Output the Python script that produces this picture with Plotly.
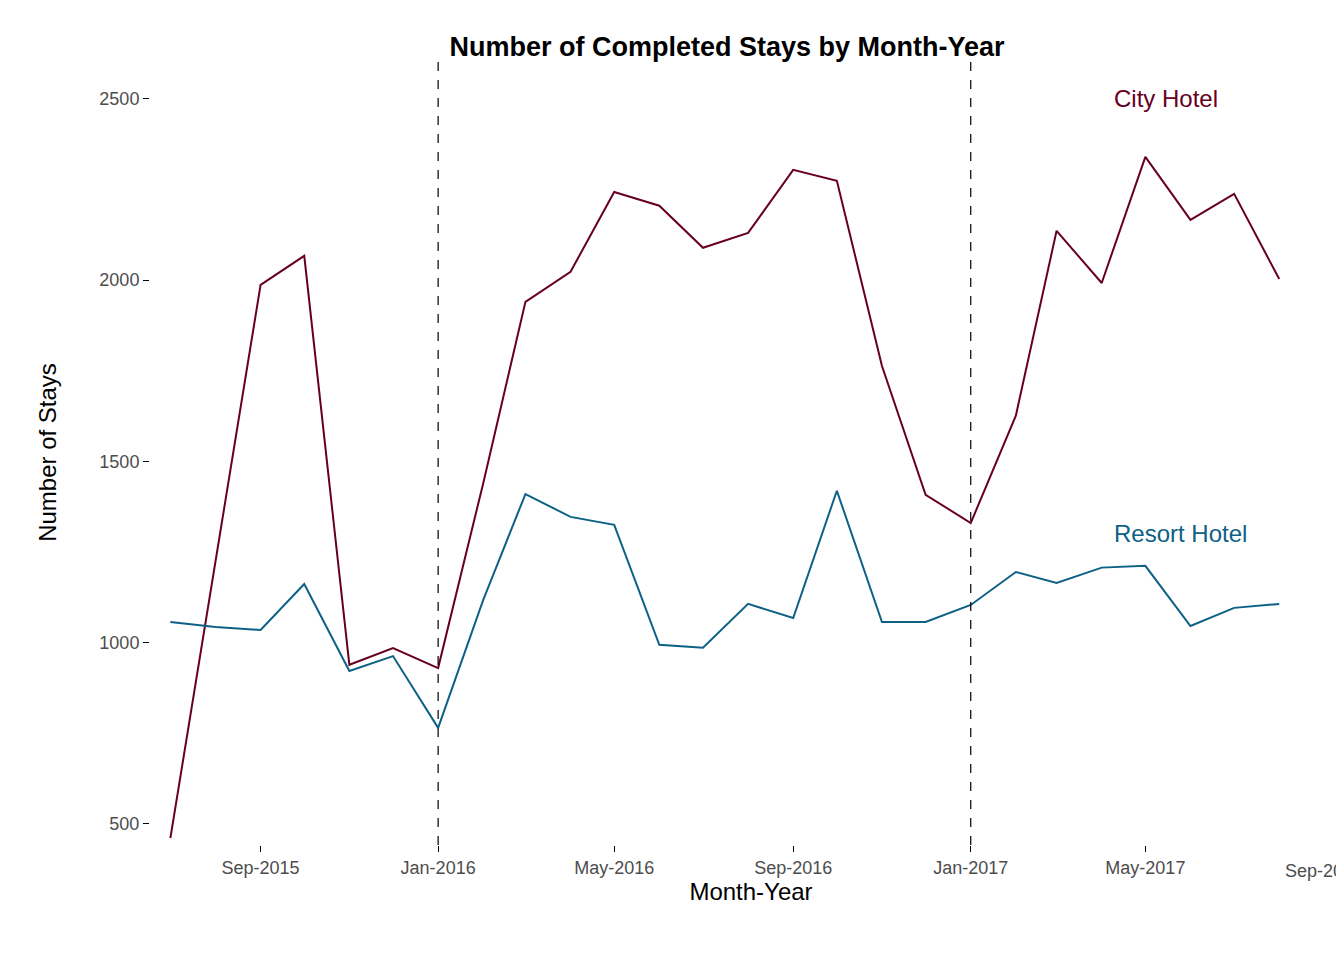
import plotly.graph_objects as go
import pandas as pd

# month-year series, Jul-2015 .. Aug-2017
months = pd.date_range("2015-07-01", "2017-08-01", freq="MS")

city_hotel = [461, 1230, 1987, 2067, 939, 985, 930, 1440, 1940, 2023, 2243, 2205, 2089,
              2130, 2304, 2274, 1763, 1408, 1330, 1626, 2136, 1992, 2340, 2166, 2238, 2003]
resort_hotel = [1057, 1043, 1035, 1162, 922, 963, 765, 1118, 1410, 1347, 1325, 994, 986,
                1107, 1068, 1419, 1057, 1057, 1104, 1195, 1165, 1207, 1212, 1046, 1096, 1107]

year_breaks = ["2016-01-01", "2017-01-01"]
tick_dates = ["2015-09-01", "2016-01-01", "2016-05-01", "2016-09-01", "2017-01-01", "2017-05-01", "2017-09-01"]
tick_labels = ["Sep-2015", "Jan-2016", "May-2016", "Sep-2016", "Jan-2017", "May-2017", "Sep-2017"]

city_col = "#67001f"
resort_col = "#0d6185"

fig = go.Figure()
fig.add_trace(go.Scatter(x=months, y=city_hotel, mode="lines", line=dict(color=city_col, width=2), name="City Hotel"))
fig.add_trace(go.Scatter(x=months, y=resort_hotel, mode="lines", line=dict(color=resort_col, width=2), name="Resort Hotel"))

for d in year_breaks:
    fig.add_vline(x=pd.Timestamp(d).timestamp() * 1000, line=dict(color="black", width=1.2, dash="dash"))

fig.add_annotation(x="2017-05-15", y=2500, text="City Hotel", showarrow=False,
                   font=dict(color=city_col, size=24, family="Liberation Sans"))
fig.add_annotation(x="2017-05-25", y=1300, text="Resort Hotel", showarrow=False,
                   font=dict(color=resort_col, size=24, family="Liberation Sans"))

# last tick label sits on the page edge, plotly drops it, so place it by hand
fig.add_annotation(x=tick_dates[-1], y=0, yref="paper", yshift=-14, yanchor="top", xanchor="center",
                   text=tick_labels[-1], showarrow=False,
                   font=dict(color="#4d4d4d", size=18, family="Liberation Sans"))

fig.update_layout(
    width=1344, height=960,
    paper_bgcolor="white", plot_bgcolor="white",
    showlegend=False,
    margin=dict(l=142, r=0, t=52, b=123),
    title=dict(text="<b>Number of Completed Stays by Month-Year</b>", x=0.535, y=0.97,
               font=dict(size=27, color="black", family="Liberation Sans")),
    font=dict(family="Liberation Sans", color="#4d4d4d", size=18),
)
fig.update_xaxes(range=["2015-06-17", "2017-09-20"], tickvals=tick_dates[:-1], ticktext=tick_labels[:-1],
                 showgrid=False, zeroline=False, ticks="outside", ticklen=6, tickcolor="black",
                 title=dict(text="Month-Year", font=dict(size=24, color="black"), standoff=6))
fig.update_yaxes(range=[442, 2607], tickvals=[500, 1000, 1500, 2000, 2500],
                 showgrid=False, zeroline=False, ticks="outside", ticklen=6, tickcolor="black",
                 title=dict(text="Number of Stays", font=dict(size=24, color="black"), standoff=35))

fig.write_html("out.html")
